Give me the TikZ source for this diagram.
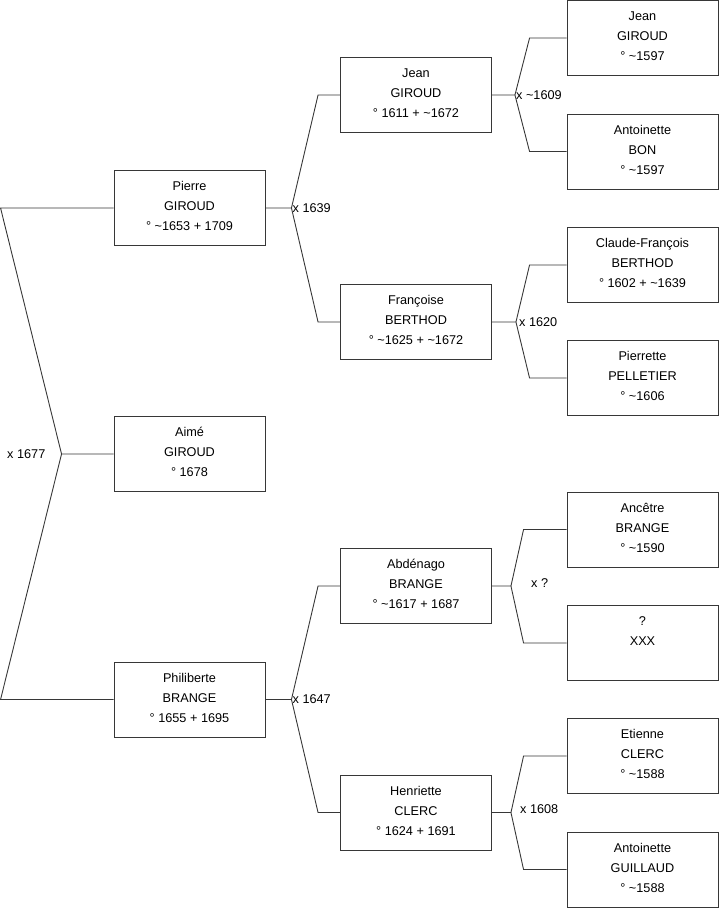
\documentclass[tikz,border=0pt]{standalone}
\usepackage{fontspec}
\setmainfont{Liberation Sans}
\usetikzlibrary{positioning,calc}
\definecolor{trait}{RGB}{55,55,55}
\tikzset{
  pers/.style={draw=trait,line width=0.9pt,minimum width=151pt,minimum height=75pt,
    inner sep=0pt,align=center,text depth=4pt,font=\fontsize{12.7}{20}\selectfont},
  lien/.style={draw=trait,line width=0.9pt},
  mar/.style={font=\fontsize{12.7}{14}\selectfont,inner sep=1pt},
}

\begin{document}
\begin{tikzpicture}[x=1pt,y=-1pt]
  \useasboundingbox (0,0) rectangle (719,908);
  % generation 1
  \node[pers] (pierre) at (189.5,208) {Pierre\\GIROUD\\° \textasciitilde1653 + 1709};
  \node[pers] (aime) at (189.5,454) {Aimé\\GIROUD\\° 1678};
  \node[pers] (phil) at (189.5,699.5) {Philiberte\\BRANGE\\° 1655 + 1695};
  % generation 2
  \node[pers] (jean) at (416,95) {Jean\\GIROUD\\° 1611 + \textasciitilde1672};
  \node[pers] (franc) at (416,322) {Françoise\\BERTHOD\\° \textasciitilde1625 + \textasciitilde1672};
  \node[pers] (abde) at (416,586) {Abdénago\\BRANGE\\° \textasciitilde1617 + 1687};
  \node[pers] (henr) at (416,812.5) {Henriette\\CLERC\\° 1624 + 1691};
  % generation 3
  \node[pers] (jeanp) at (642.5,38) {Jean\\GIROUD\\° \textasciitilde1597};
  \node[pers] (antb) at (642.5,151.5) {Antoinette\\BON\\° \textasciitilde1597};
  \node[pers] (claude) at (642.5,265) {Claude-François\\BERTHOD\\° 1602 + \textasciitilde1639};
  \node[pers] (pierrette) at (642.5,378) {Pierrette\\PELLETIER\\° \textasciitilde1606};
  \node[pers] (ancetre) at (642.5,529.5) {Ancêtre\\BRANGE\\° \textasciitilde1590};
  \node[pers] (xxx) at (642.5,643) {?\\XXX\\~};
  \node[pers] (etienne) at (642.5,756) {Etienne\\CLERC\\° \textasciitilde1588};
  \node[pers] (antg) at (642.5,869.5) {Antoinette\\GUILLAUD\\° \textasciitilde1588};

  % junctions
  \coordinate (r1) at ($(pierre.west)+(-113,0)$);
  \coordinate (jR) at ($(aime.west)+(-52,0)$);
  \coordinate (r2) at ($(phil.west)+(-113,0)$);
  \coordinate (jP) at ($(pierre.east)+(26,0)$);
  \coordinate (jB) at ($(phil.east)+(26,0)$);
  \coordinate (jJ) at ($(jean.east)+(23,0)$);
  \coordinate (jF) at ($(franc.east)+(24,0)$);
  \coordinate (jA) at ($(abde.east)+(19,0)$);
  \coordinate (jH) at ($(henr.east)+(19,0)$);

  \draw[lien] (pierre.west) -- (r1) -- (jR) -- (aime.west);
  \draw[lien] (jR) -- (r2) -- (phil.west);
  \node[mar,left=15pt] at (jR) {x 1677};

  \draw[lien] (pierre.east) -- (jP) -- ($(jean.west)+(-22,0)$) -- (jean.west);
  \draw[lien] (jP) -- ($(franc.west)+(-22,0)$) -- (franc.west);
  \node[mar,right=0pt] at (jP) {x 1639};

  \draw[lien] (phil.east) -- (jB) -- ($(abde.west)+(-22,0)$) -- (abde.west);
  \draw[lien] (jB) -- ($(henr.west)+(-22,0)$) -- (henr.west);
  \node[mar,right=0pt] at (jB) {x 1647};

  \draw[lien] (jean.east) -- (jJ) -- ($(jeanp.west)+(-37,0)$) -- (jeanp.west);
  \draw[lien] (jJ) -- ($(antb.west)+(-37,0)$) -- (antb.west);
  \node[mar,right=0pt] at (jJ) {x \textasciitilde1609};

  \draw[lien] (franc.east) -- (jF) -- ($(claude.west)+(-37,0)$) -- (claude.west);
  \draw[lien] (jF) -- ($(pierrette.west)+(-37,0)$) -- (pierrette.west);
  \node[mar,right=2pt] at (jF) {x 1620};

  \draw[lien] (abde.east) -- (jA) -- ($(ancetre.west)+(-43,0)$) -- (ancetre.west);
  \draw[lien] (jA) -- ($(xxx.west)+(-43,0)$) -- (xxx.west);
  \node[mar,right=19pt,yshift=3pt] at (jA) {x ?};

  \draw[lien] (henr.east) -- (jH) -- ($(etienne.west)+(-43,0)$) -- (etienne.west);
  \draw[lien] (jH) -- ($(antg.west)+(-43,0)$) -- (antg.west);
  \node[mar,right=8pt,yshift=3pt] at (jH) {x 1608};
\end{tikzpicture}
\end{document}
